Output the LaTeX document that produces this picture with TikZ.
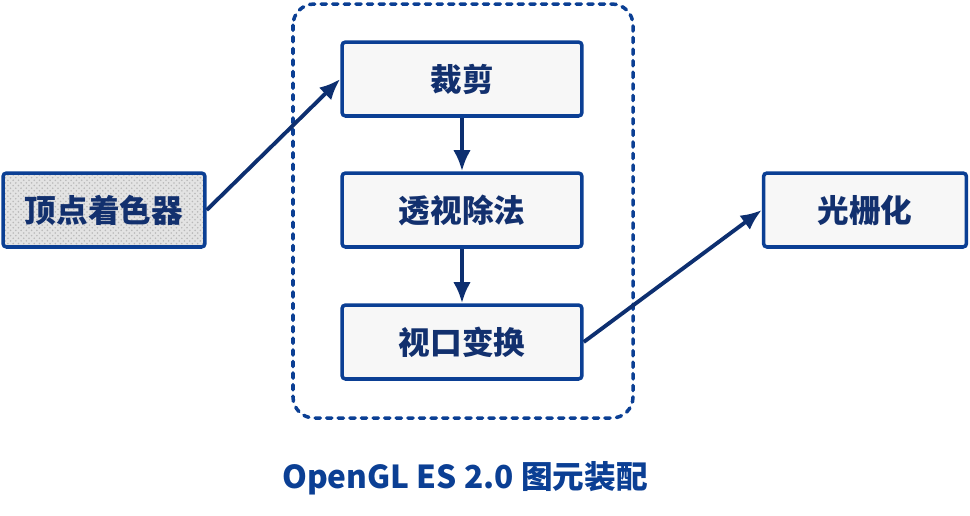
\documentclass[tikz,border=0pt]{standalone}
\usepackage{fontspec}
\setmainfont{Noto Sans CJK SC}
\usepackage{tikz}
\usetikzlibrary{positioning,arrows.meta}
\usetikzlibrary{patterns}
\definecolor{boxblue}{HTML}{0B3F94}
\definecolor{arrowblue}{HTML}{0D2F70}
\definecolor{textblue}{HTML}{12306E}
\definecolor{boxfill}{HTML}{F7F7F7}
\tikzset{every picture/.style={line width=0.75pt}}

\begin{document}
\begin{tikzpicture}[x=0.02cm,y=-0.02cm,
  stage/.style={draw=boxblue,line width=2pt,fill=boxfill,rounded corners=2pt,
    minimum width=4.8cm,minimum height=1.48cm,inner sep=0pt,
    font=\bfseries\fontsize{18}{20}\selectfont,text=textblue},
  flow/.style={-{Latex[length=12pt,width=10pt]},draw=arrowblue,line width=2.2pt}]
\useasboundingbox (0,0) rectangle (970,515);
% assembly stage
\draw[boxblue,line width=2pt,dash pattern=on 3pt off 3.6pt,line cap=round,rounded corners=12pt]
  (293,4) rectangle (633,418);
\node[stage] (clip) at (462,79) {裁剪};
\node[stage] (persp) at (462,210) {透视除法};
\node[stage] (view) at (462,342) {视口变换};
%
\node[stage,minimum width=4.04cm,preaction={fill=gray!22},pattern=crosshatch dots,pattern color=gray!55] (vshader) at (104,210) {顶点着色器};
\node[stage,minimum width=4.06cm] (raster) at (865,210) {光栅化};
%
\draw[flow] (vshader.east) -- (clip.west);
\draw[flow] (clip) -- (persp);
\draw[flow] (persp) -- (view);
\draw[flow] (view.east) -- (raster.west);
%
\node[font=\bfseries\fontsize{18}{20}\selectfont,text=boxblue] (caption) at (465,478) {OpenGL ES 2.0 图元装配};
\end{tikzpicture}
\end{document}
